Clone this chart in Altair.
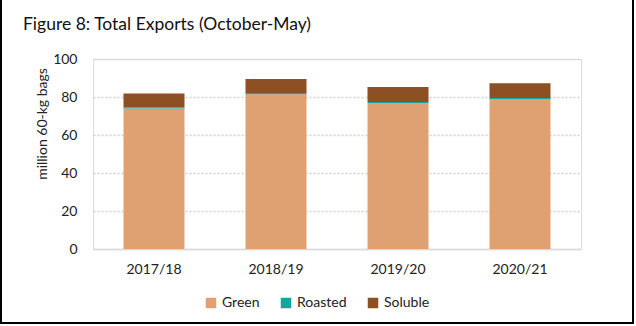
import altair as alt
import pandas as pd

years = ["2017/18", "2018/19", "2019/20", "2020/21"]
green = [74.0, 81.5, 76.8, 79.0]
roasted = [0.6, 0.6, 0.6, 0.5]
soluble = [7.3, 7.4, 7.9, 7.7]
series = ["Green", "Roasted", "Soluble"]
colors = ["#E0A172", "#14A69D", "#8D4F24"]
y_title = "million 60-kg bags"

rows = []
for i, y in enumerate(years):
    for k, (name, vals) in enumerate(zip(series, [green, roasted, soluble])):
        rows.append({"year": y, "type": name, "value": vals[i], "order": k})
df = pd.DataFrame(rows)

FONT = "Lato"

bars = alt.Chart(df).mark_bar().encode(
    x=alt.X("year:N", sort=years, title=None,
            scale=alt.Scale(paddingInner=0.5, paddingOuter=0.25),
            axis=alt.Axis(labelAngle=0, ticks=False, domain=True, domainColor="#D9D9D9",
                          domainWidth=1.5, labelPadding=13, labelFontSize=14,
                          labelFont=FONT, labelColor="#222")),
    y=alt.Y("value:Q", stack="zero", title=None,
            scale=alt.Scale(domain=[0, 100]),
            axis=alt.Axis(values=[0, 20, 40, 60, 80, 100], ticks=False, domain=False,
                          grid=True, gridDash=[2, 2], gridColor="#D0D0D0", gridWidth=1.5,
                          labelPadding=16, labelFontSize=14, labelFont=FONT, labelColor="#222")),
    color=alt.Color("type:N", sort=series,
                    scale=alt.Scale(domain=series, range=colors),
                    legend=alt.Legend(title=None, orient="none", direction="horizontal",
                                      legendX=111, legendY=237, symbolType="square",
                                      symbolSize=110, symbolStrokeWidth=0, labelFont=FONT,
                                      labelFontSize=14, labelColor="#222", columnPadding=19,
                                      symbolOpacity=1)),
    order=alt.Order("order:Q"),
)

ytitle = alt.Chart(pd.DataFrame({"t": [y_title]})).mark_text(
    angle=270, align="center", baseline="middle", font=FONT, fontSize=14, color="#222"
).encode(text="t:N", x=alt.value(-50), y=alt.value(65))

frame = alt.Chart(pd.DataFrame({"a": [0]})).mark_rect(
    fill=None, stroke="black", strokeWidth=2
).encode(
    x=alt.value(-92), x2=alt.value(540), y=alt.value(-62), y2=alt.value(264)
)

chart = alt.layer(bars, ytitle, frame).properties(
    width=488, height=190,
    autosize=alt.AutoSizeParams(type="none"),
    padding={"left": 93, "top": 59, "right": 55, "bottom": 77},
    title=alt.TitleParams("Figure 8: Total Exports (October-May)", anchor="start",
                          frame="group", font=FONT, fontSize=17.5, fontWeight="normal",
                          color="#111", dx=-70, offset=-37),
).configure_view(stroke=None).configure(background="white")

chart.save("out.html", embed_options={"renderer": "svg", "actions": False})
